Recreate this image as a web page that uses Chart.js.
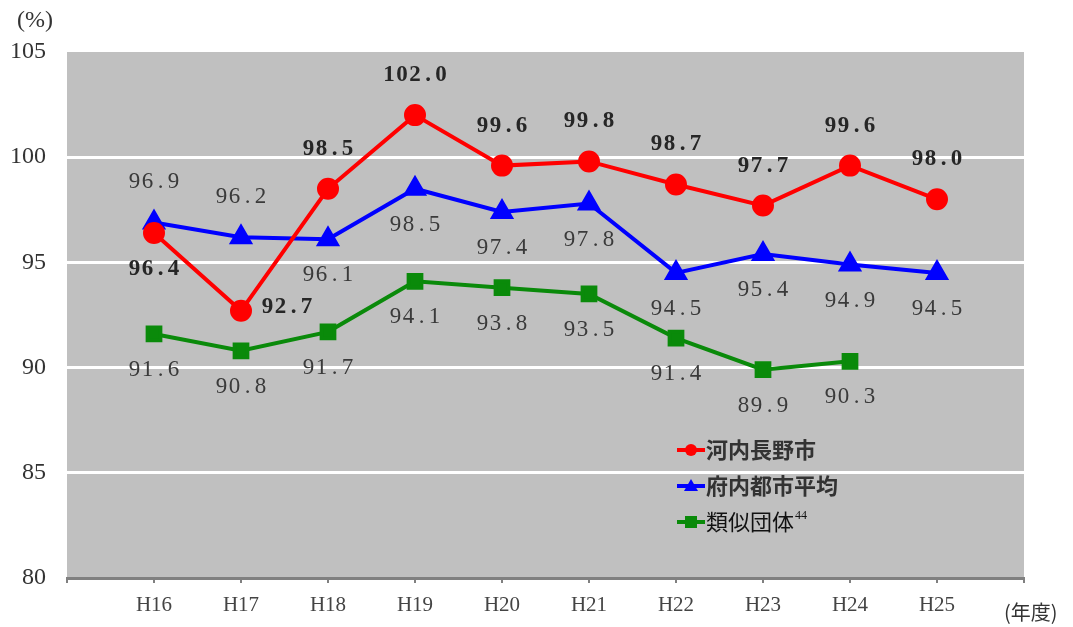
<!DOCTYPE html>
<html>
<head>
<meta charset="utf-8">
<script src="https://cdn.jsdelivr.net/npm/chart.js@4/dist/chart.umd.min.js"></script>
<style>
  html, body { margin: 0; padding: 0; background: #fff; }
  #wrap { width: 1073px; height: 627px; }
</style>
</head>
<body>
<div id="wrap"><canvas id="chart" width="1073" height="627"></canvas></div>
<script>
// years (blank slots keep the first/last category off the plot edges)
const years = ['', 'H16', 'H17', 'H18', 'H19', 'H20', 'H21', 'H22', 'H23', 'H24', 'H25', ''];
const seriesNames = ['河内長野市', '府内都市平均', '類似団体'];
const kawachinagano = [null, 96.4, 92.7, 98.5, 102.0, 99.6, 99.8, 98.7, 97.7, 99.6, 98.0, null];
const prefAverage = [null, 96.9, 96.2, 96.1, 98.5, 97.4, 97.8, 94.5, 95.4, 94.9, 94.5, null];
const similarGroups = [null, 91.6, 90.8, 91.7, 94.1, 93.8, 93.5, 91.4, 89.9, 90.3, null, null];
const yTicks = [80, 85, 90, 95, 100, 105];

const serif = '"Liberation Serif", "DejaVu Serif", serif';
const jp = '"Noto Sans CJK JP", sans-serif';

// where each value label goes relative to its point
const labelPlacement = [
  ['', 'below', 'right', 'above', 'above', 'above', 'above', 'above', 'above', 'above', 'above', ''],
  ['', 'above', 'above', 'below', 'below', 'below', 'below', 'below', 'below', 'below', 'below', ''],
  ['', 'below', 'below', 'below', 'below', 'below', 'below', 'below', 'below', 'below', 'below', '']
];

// draw text in fixed-width cells, like a Japanese mincho font does
function drawMono(ctx, text, cx, cy, cell) {
  const w = text.length * cell;
  let x = cx - w / 2 + cell / 2;
  for (const ch of text) {
    ctx.fillText(ch, x, cy);
    x += cell;
  }
}

const decorations = {
  id: 'decorations',
  beforeDraw(chart) {
    const { ctx, chartArea: a } = chart;
    ctx.save();
    ctx.fillStyle = '#c0c0c0';
    ctx.fillRect(a.left, a.top, a.right - a.left, a.bottom - a.top);
    ctx.restore();
  },
  afterDatasetsDraw(chart) {
    const { ctx } = chart;
    ctx.save();
    ctx.textAlign = 'center';
    ctx.textBaseline = 'middle';
    chart.data.datasets.forEach((ds, di) => {
      const meta = chart.getDatasetMeta(di);
      meta.data.forEach((pt, i) => {
        const v = ds.data[i];
        if (v == null) return;
        const pos = labelPlacement[di][i];
        let x = pt.x, y = pt.y;
        if (pos === 'above') y -= 40;
        else if (pos === 'below') y += 36;
        else if (pos === 'right') { x += 46; y -= 4; }
        ctx.font = (di === 0 ? 'bold ' : '') + '23px ' + serif;
        ctx.fillStyle = di === 0 ? '#262626' : '#3a3a3a';
        drawMono(ctx, v.toFixed(1), x, y, 13);
      });
    });

    // legend
    const lx = 677, ly = [450, 486, 522];
    chart.data.datasets.forEach((ds, di) => {
      const y = ly[di];
      ctx.strokeStyle = ds.borderColor;
      ctx.lineWidth = 4;
      ctx.beginPath();
      ctx.moveTo(lx, y);
      ctx.lineTo(lx + 28, y);
      ctx.stroke();
      ctx.fillStyle = ds.borderColor;
      ctx.beginPath();
      if (di === 0) ctx.arc(lx + 14, y, 6, 0, Math.PI * 2);
      else if (di === 1) { ctx.moveTo(lx + 14, y - 7); ctx.lineTo(lx + 21, y + 5); ctx.lineTo(lx + 7, y + 5); ctx.closePath(); }
      else ctx.rect(lx + 8, y - 6, 12, 12);
      ctx.fill();
      ctx.fillStyle = di === 2 ? '#111' : '#333';
      ctx.textAlign = 'left';
      ctx.font = (di === 2 ? '' : 'bold ') + '22px ' + jp;
      ctx.fillText(ds.label, lx + 29, y);
      if (di === 2) {
        const w = ctx.measureText(ds.label).width;
        ctx.font = '12px ' + serif;
        ctx.fillText('44', lx + 29 + w + 1, y - 6);
      }
    });

    // unit labels
    ctx.fillStyle = '#333';
    ctx.textAlign = 'left';
    ctx.font = '24px ' + serif;
    ctx.fillText('(%)', 17, 21);
    ctx.font = '20px ' + jp;
    ctx.fillText('(年度)', 1004, 612);
    ctx.restore();
  }
};

new Chart(document.getElementById('chart'), {
  type: 'line',
  data: {
    labels: years,
    datasets: [
      {
        label: seriesNames[0], data: kawachinagano,
        borderColor: '#ff0000', backgroundColor: '#ff0000',
        borderWidth: 4, pointStyle: 'circle', pointRadius: 9, pointHoverRadius: 9
      },
      {
        label: seriesNames[1], data: prefAverage,
        borderColor: '#0000ff', backgroundColor: '#0000ff',
        borderWidth: 4, pointStyle: 'triangle', pointRadius: 10, pointHoverRadius: 10
      },
      {
        label: seriesNames[2], data: similarGroups,
        borderColor: '#0a8a0a', backgroundColor: '#0a8a0a',
        borderWidth: 4, pointStyle: 'rect', pointRadius: 9, pointHoverRadius: 9
      }
    ]
  },
  options: {
    responsive: false,
    animation: false,
    spanGaps: false,
    layout: { padding: { top: 52, right: 49, left: 0, bottom: 0 } },
    plugins: {
      legend: { display: false },
      tooltip: { enabled: false }
    },
    scales: {
      x: {
        offset: false,
        grid: { display: true, drawOnChartArea: false, drawTicks: true, tickLength: 5, color: '#808080', lineWidth: 2 },
        border: { color: '#808080', width: 3 },
        ticks: { autoSkip: false, maxRotation: 0, color: '#444', font: { family: serif, size: 21 }, padding: 10 },
        afterFit(scale) { scale.height = 49; }
      },
      y: {
        min: 80, max: 105,
        afterBuildTicks(scale) { scale.ticks = yTicks.map(v => ({ value: v })); },
        grid: {
          color: ctx => (ctx.tick && (ctx.tick.value === 80 || ctx.tick.value === 105)) ? 'rgba(0,0,0,0)' : '#ffffff',
          lineWidth: 3,
          drawTicks: false
        },
        border: { display: false },
        ticks: { color: '#333', font: { family: serif, size: 24 }, padding: 21 },
        afterFit(scale) { scale.width = 67; }
      }
    }
  },
  plugins: [decorations]
});
</script>
</body>
</html>
